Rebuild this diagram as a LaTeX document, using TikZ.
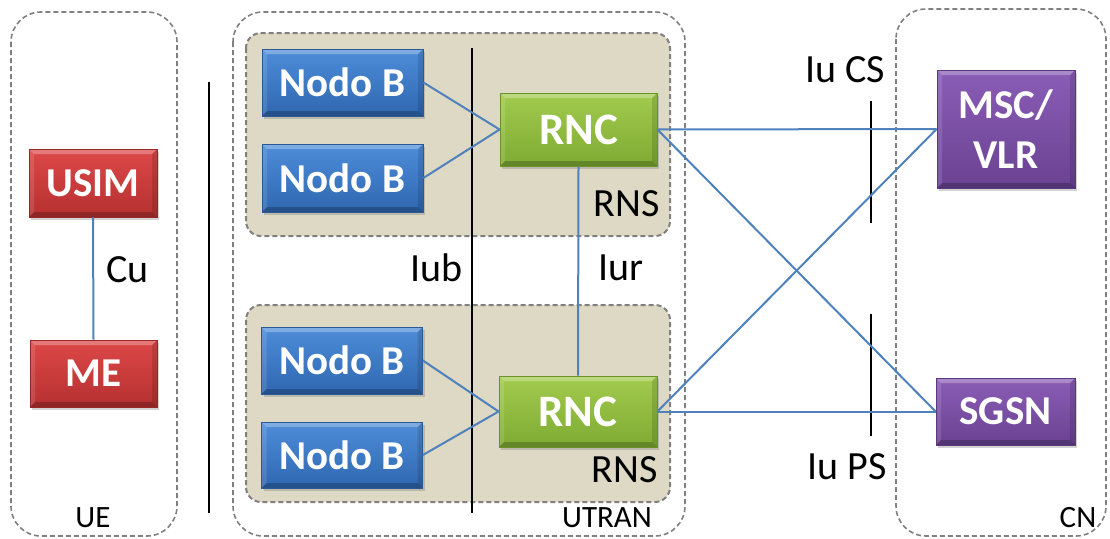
\documentclass[tikz,border=0pt]{standalone}
\usepackage{fontspec}
\setmainfont{Carlito}
\usetikzlibrary{shadows}

\definecolor{bluetop}{HTML}{4E8DD9}
\definecolor{bluebot}{HTML}{2F67B0}
\definecolor{blueedge}{HTML}{2A5A96}
\definecolor{greentop}{HTML}{A2CB4E}
\definecolor{greenbot}{HTML}{7FAB33}
\definecolor{greenedge}{HTML}{6A9228}
\definecolor{redtop}{HTML}{DD4848}
\definecolor{redbot}{HTML}{B63030}
\definecolor{rededge}{HTML}{982828}
\definecolor{purptop}{HTML}{8A5DB6}
\definecolor{purpbot}{HTML}{6A4292}
\definecolor{purpedge}{HTML}{5A3880}
\definecolor{linkblue}{HTML}{4F81BD}
\definecolor{rnsfill}{HTML}{DDD9C4}
\definecolor{dashgray}{HTML}{808080}

\tikzset{
  bevel/.style={
    path picture={
      \fill[white,opacity=0.28]
        (path picture bounding box.north west) -- (path picture bounding box.north east)
        -- ([xshift=-5pt,yshift=-5pt]path picture bounding box.north east)
        -- ([xshift=5pt,yshift=-5pt]path picture bounding box.north west) -- cycle;
      \fill[white,opacity=0.12]
        (path picture bounding box.north west) -- ([xshift=5pt,yshift=-5pt]path picture bounding box.north west)
        -- ([xshift=5pt,yshift=5pt]path picture bounding box.south west)
        -- (path picture bounding box.south west) -- cycle;
      \fill[black,opacity=0.22]
        (path picture bounding box.south west) -- (path picture bounding box.south east)
        -- ([xshift=-5pt,yshift=5pt]path picture bounding box.south east)
        -- ([xshift=5pt,yshift=5pt]path picture bounding box.south west) -- cycle;
      \fill[black,opacity=0.12]
        (path picture bounding box.north east) -- ([xshift=-5pt,yshift=-5pt]path picture bounding box.north east)
        -- ([xshift=-5pt,yshift=5pt]path picture bounding box.south east)
        -- (path picture bounding box.south east) -- cycle;
    }},
  box/.style={bevel, inner sep=0pt, align=center, text=white,
    font=\fontsize{41}{50}\selectfont\bfseries, line width=0.8pt,
    drop shadow={opacity=0.35, shadow xshift=2pt, shadow yshift=-3pt}},
  bluebox/.style={box, draw=blueedge, top color=bluetop, bottom color=bluebot,
    minimum width=161pt, minimum height=67pt},
  greenbox/.style={box, draw=greenedge, top color=greentop, bottom color=greenbot,
    minimum width=157pt, minimum height=72pt, font=\fontsize{45}{54}\selectfont\bfseries},
  redbox/.style={box, draw=rededge, top color=redtop, bottom color=redbot,
    minimum width=128pt, minimum height=68pt},
  purpbox/.style={box, draw=purpedge, top color=purptop, bottom color=purpbot,
    minimum width=138pt},
  zonebox/.style={draw=dashgray, line width=1.6pt, dash pattern=on 5pt off 3pt,
    rounded corners=30pt},
  rnsbox/.style={draw=dashgray, fill=rnsfill, line width=2pt, dash pattern=on 5pt off 3pt,
    rounded corners=15pt},
  link/.style={draw=linkblue, line width=2pt},
  divider/.style={draw=black, line width=1.8pt},
  lbl/.style={font=\fontsize{40}{48}\selectfont, inner sep=0pt},
  small/.style={font=\fontsize{31}{36}\selectfont, inner sep=0pt}
}

\begin{document}
\begin{tikzpicture}[x=1pt,y=-1pt]
\useasboundingbox (0,0) rectangle (1110,538);

% domains
\draw[zonebox] (11,12) rectangle (177,536);
\draw[zonebox] (233,12) rectangle (685,536);
\draw[zonebox] (896,9) rectangle (1106,536);

% radio network subsystems
\draw[rnsbox] (246,33) rectangle (670,236);
\draw[rnsbox] (246,305) rectangle (670,502);

% interface separators
\coordinate (ueTop) at (209,82);
\coordinate (ueBot) at (209,513);
\coordinate (iubTop) at (472,48);
\coordinate (iubBot) at (472,513);
\coordinate (csTop) at (871,101);
\coordinate (csBot) at (871,223);
\coordinate (psTop) at (871,314);
\coordinate (psBot) at (871,436);
\draw[divider] (ueTop) -- (ueBot);
\draw[divider] (iubTop) -- (iubBot);
\draw[divider] (csTop) -- (csBot);
\draw[divider] (psTop) -- (psBot);

% equipment
\node[redbox] (usim) at (93,183) {USIM};
\node[redbox, minimum width=127pt, minimum height=67pt] (me) at (93.5,373.5) {ME};

\node[bluebox] (nb1) at (342.5,82.5) {Nodo B};
\node[bluebox, minimum height=68pt] (nb2) at (342.5,178) {Nodo B};
\node[bluebox] (nb3) at (342,360.5) {Nodo B};
\node[bluebox, minimum height=66pt] (nb4) at (342,455) {Nodo B};

\node[greenbox, minimum height=73pt] (rnc1) at (578.5,129.5) {RNC};
\node[greenbox, minimum width=158pt, minimum height=71pt] (rnc2) at (578,411.5) {RNC};

\node[purpbox, minimum height=118pt] (msc) at (1006,129) {MSC/\\VLR};
\node[purpbox, minimum width=139pt, minimum height=67pt] (sgsn) at (1005.5,411.5) {SGSN};

% links
\path[link] (usim.south) -- (me.north);
\path[link] (nb1.east) -- (rnc1.west);
\path[link] (nb2.east) -- (rnc1.west);
\path[link] (nb3.east) -- (rnc2.west);
\path[link] (nb4.east) -- (rnc2.west);
\path[link] (rnc1.south) -- (rnc2.north);
\path[link] (rnc1.east) -- (msc.west);
\path[link] (rnc1.east) -- (sgsn.west);
\path[link] (rnc2.east) -- (msc.west);
\path[link] (rnc2.east) -- (sgsn.west);

% interface labels
\node[lbl, anchor=west] (cu) at (106,270) {Cu};
\node[lbl, anchor=east] (iub) at (463,268) {Iub};
\node[lbl, anchor=west] (iur) at (598,268) {Iur};
\node[lbl] (iucs) at (845,70) {Iu CS};
\node[lbl] (iups) at (847,467) {Iu PS};
\node[lbl, anchor=east] (rns1) at (660,204) {RNS};
\node[lbl, anchor=east] (rns2) at (658,470) {RNS};

% domain labels
\node[small] (ue) at (93,518) {UE};
\node[small] (utran) at (607,518) {UTRAN};
\node[small] (cn) at (1078,518) {CN};
\end{tikzpicture}
\end{document}
